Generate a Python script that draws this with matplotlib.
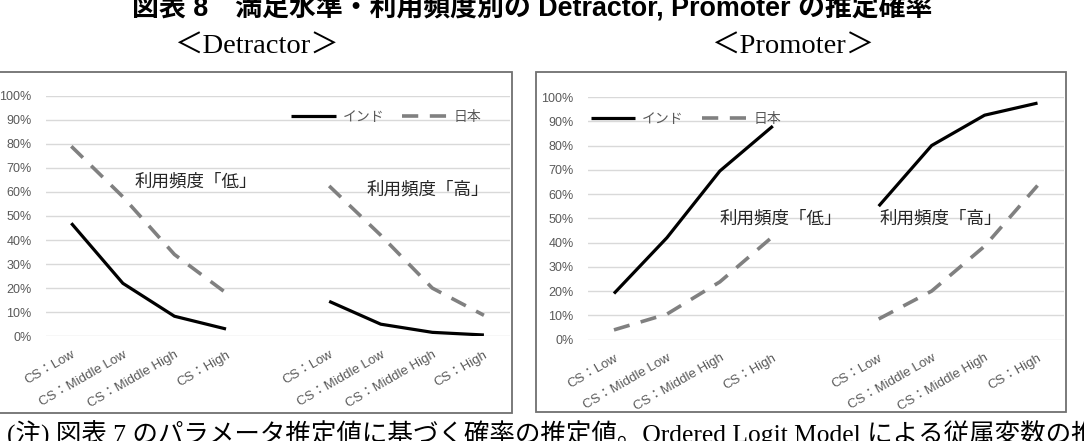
import matplotlib
matplotlib.use("Agg")
import matplotlib.pyplot as plt
from matplotlib.patches import Rectangle

cats = ['CS：Low', 'CS：Middle Low', 'CS：Middle High', 'CS：High']
series_names = ['インド', '日本']
freq_labels = ['利用頻度「低」', '利用頻度「高」']

det_india_low = [0.47, 0.22, 0.083, 0.03]
det_japan_low = [0.79, 0.58, 0.34, 0.18]
det_india_high = [0.145, 0.05, 0.016, 0.005]
det_japan_high = [0.625, 0.42, 0.20, 0.087]

pro_india_low = [0.19, 0.42, 0.695, 0.88]
pro_japan_low = [0.04, 0.105, 0.238, 0.425]
pro_india_high = [0.55, 0.80, 0.925, 0.975]
pro_japan_high = [0.085, 0.20, 0.385, 0.635]

W, H = 1084, 441
jp = ['Liberation Sans', 'Noto Sans CJK JP']
serif_jp = ['Liberation Serif', 'Noto Sans CJK JP']
txt_gray = '#595959'

fig = plt.figure(figsize=(W / 100, H / 100), dpi=100)


def px_box(x0, y0, x1, y1):
    # pixel box (top-left origin) -> figure fraction [left, bottom, width, height]
    return [x0 / W, 1 - y1 / H, (x1 - x0) / W, (y1 - y0) / H]


def panel(rect, axbox, india_low, japan_low, india_high, japan_high,
          legend_at, label_pos):
    l, b, w, h = px_box(*rect)
    fig.add_artist(Rectangle((l, b), w, h, transform=fig.transFigure,
                             fill=False, ec='#707070', lw=1.3))
    ax = fig.add_axes(px_box(*axbox))
    x_low = [0, 1, 2, 3]
    x_high = [5, 6, 7, 8]
    kw_in = dict(color='black', lw=2.3, solid_capstyle='butt')
    kw_jp = dict(color='#808080', lw=2.6, linestyle=(0, (4.5, 3.2)))
    ax.plot(x_low, india_low, label=series_names[0], **kw_in)
    ax.plot(x_low, japan_low, label=series_names[1], **kw_jp)
    ax.plot(x_high, india_high, **kw_in)
    ax.plot(x_high, japan_high, **kw_jp)
    ax.set_xlim(-0.5, 8.5)
    ax.set_ylim(0, 1)
    ax.set_yticks([i / 10 for i in range(11)])
    ax.set_yticklabels(['%d%%' % (i * 10) for i in range(11)],
                       family=jp, fontsize=9, color=txt_gray)
    ax.set_xticks(x_low + x_high)
    ax.set_xticklabels(cats + cats, rotation=30, ha='right',
                       rotation_mode='anchor', family=jp, fontsize=9.5,
                       color=txt_gray)
    ax.tick_params(length=0)
    ax.tick_params(axis='y', pad=10)
    ax.tick_params(axis='x', pad=9)
    ax.grid(axis='y', color='#d9d9d9', lw=1)
    ax.set_axisbelow(True)
    for s in ax.spines.values():
        s.set_visible(False)
    leg = ax.legend(loc='center left', bbox_to_anchor=legend_at, ncol=2,
                    frameon=False, prop={'family': jp, 'size': 10},
                    handlelength=3.2, handletextpad=0.5, columnspacing=1.3,
                    borderpad=0, borderaxespad=0)
    for t in leg.get_texts():
        t.set_color(txt_gray)
    for lab, (x, y) in zip(freq_labels, label_pos):
        ax.text(x, y, lab, family=jp, fontsize=12.6, color='#262626',
                ha='center', va='center')
    return ax


panel((-2, 72, 511.5, 413), (45.5, 95.8, 509.7, 336.2),
      det_india_low, det_japan_low, det_india_high, det_japan_high,
      (0.529, 0.911), [(2.42, 0.645), (6.92, 0.609)])
panel((536, 72, 1065.5, 412), (587.5, 97, 1064, 339.6),
      pro_india_low, pro_japan_low, pro_india_high, pro_japan_high,
      (0.007, 0.909), [(3.16, 0.498), (6.18, 0.498)])

fig.text(532 / W, 1 - 16 / H, '図表 8　満足水準・利用頻度別の Detractor, Promoter の推定確率',
         family=jp, fontsize=19.4, fontweight='bold', ha='center', va='baseline')
fig.text(256 / W, 1 - 47 / H, '＜Detractor＞', family=serif_jp, fontsize=20.5,
         ha='center', va='center')
fig.text(793 / W, 1 - 47 / H, '＜Promoter＞', family=serif_jp, fontsize=20.5,
         ha='center', va='center')
fig.text(7 / W, 1 - 443 / H,
         '(注) 図表 7 のパラメータ推定値に基づく確率の推定値。Ordered Logit Model による従属変数の推定',
         family=serif_jp, fontsize=18.4, ha='left', va='baseline')

fig.savefig('out.png', dpi=100)
